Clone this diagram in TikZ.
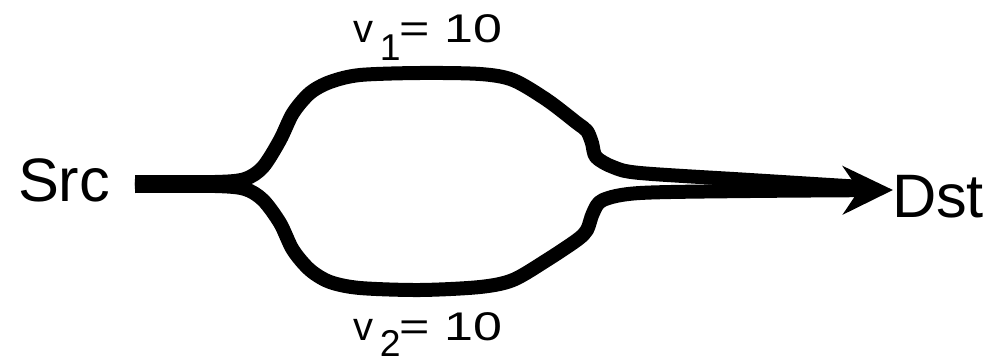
\documentclass[tikz,border=0pt]{standalone}
\usepackage{fontspec}
\setmainfont{Liberation Sans}
\usetikzlibrary{arrows.meta}
\tikzset{
  bigtext/.style={font=\fontsize{46}{50}\selectfont, inner sep=0pt},
  lbltext/.style={font=\fontsize{30}{34}\selectfont, inner sep=0pt, anchor=base west},
  flow/.style={line width=10.5pt, line join=round, line cap=butt},
  flowtip/.style={-{Stealth[length=37.5pt,width=36pt,inset=12pt]}}
}
\newcommand{\subdigit}[2]{\raisebox{-#1}{\fontsize{28}{30}\selectfont #2}}
\begin{document}
\begin{tikzpicture}[x=0.75pt,y=-0.75pt]
\useasboundingbox (0,0) rectangle (996,364);
\node[bigtext] (src) at (64,180) {Src};
\node[bigtext] (dst) at (938,196.5) {Dst};
\node[lbltext] (v1) at (353,42) {v\hspace{5pt}\subdigit{14pt}{1}\hspace{-1pt}\scalebox{1.3}[1]{= 10}};
\node[lbltext] (v2) at (353,340) {v\hspace{5pt}\subdigit{12pt}{2}\hspace{-1pt}\scalebox{1.3}[1]{= 10}};
\coordinate (s1) at (135,182);
\coordinate (s2) at (135,186);
\coordinate (m) at (862,187);
\coordinate (tip) at (893,190);
\draw[flow] plot[smooth, tension=0.5] coordinates {(s1) (215,182) (245,179) (263,167) (280,140) (293,113) (310,93) (330,82) (360,75) (420,73) (480,74) (513,80) (547,100) (577,123) (587,131) (592,143) (596,157) (613,167) (640,173) (750,180) (m)};
\draw[flow,flowtip] plot[smooth, tension=0.5] coordinates {(s2) (215,186) (245,189) (263,200) (280,223) (293,250) (310,270) (330,282) (360,288) (420,290) (480,287) (513,280) (547,260) (577,240) (587,230) (593,213) (603,200) (640,193) (750,191) (tip)};
\end{tikzpicture}
\end{document}
